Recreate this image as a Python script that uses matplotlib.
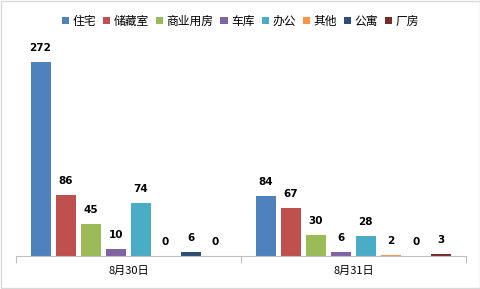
import matplotlib
matplotlib.use('Agg')
from matplotlib import pyplot as plt
from matplotlib.patches import Rectangle
import numpy as np

plt.rcParams['font.family'] = ['Noto Sans CJK SC', 'DejaVu Sans']

dates = ['8月30日', '8月31日']
types = ['住宅', '储藏室', '商业用房', '车库', '办公', '其他', '公寓', '厂房']
values = [
    [272, 84],
    [86, 67],
    [45, 30],
    [10, 6],
    [74, 28],
    [0, 2],
    [6, 0],
    [0, 3],
]
colors = ['#4F81BD', '#C0504D', '#9BBB59', '#8064A2', '#4BACC6', '#F79646', '#2C4D75', '#772C2A']

fig = plt.figure(figsize=(4.81, 2.89), dpi=100)
fig.patches.append(Rectangle((0.002, 0.003), 0.995, 0.993, transform=fig.transFigure,
                             fill=False, edgecolor='#D9D9D9', linewidth=1))
ax = fig.add_axes([0.0333, 0.114, 0.936, 0.740])

x = np.arange(len(dates))
step = 25 / 225
width = 20 / 225
for i, t in enumerate(types):
    pos = x - 0.5 + (24.5 / 225) + i * step
    bars = ax.bar(pos, values[i], width, color=colors[i], label=t)
    for b, v in zip(bars, values[i]):
        ax.annotate(str(v), (b.get_x() + b.get_width() / 2, v), xytext=(0, 10),
                    textcoords='offset points', ha='center', va='center',
                    fontsize=7.5, fontweight='bold', color='#000000', family='DejaVu Sans')

ax.set_xlim(-0.5, 1.5)
ax.set_ylim(0, 300)
ax.set_yticks([])
ax.set_xticks([-0.5, 0.5, 1.5])
ax.set_xticklabels([])
ax.set_xticks(x, minor=True)
ax.set_xticklabels(dates, minor=True, fontsize=8)
ax.tick_params(axis='x', which='major', length=5, color='#BFBFBF', direction='out')
ax.tick_params(axis='x', which='minor', length=0, pad=7)
for s in ['top', 'right', 'left']:
    ax.spines[s].set_visible(False)
ax.spines['bottom'].set_color('#BFBFBF')

fig.legend(loc='center', bbox_to_anchor=(0.5, 0.927), ncol=8, frameon=False,
           fontsize=8.5, handlelength=0.6, handleheight=0.6, handletextpad=0.3,
           columnspacing=0.6)

plt.savefig('out.png', dpi=100)
